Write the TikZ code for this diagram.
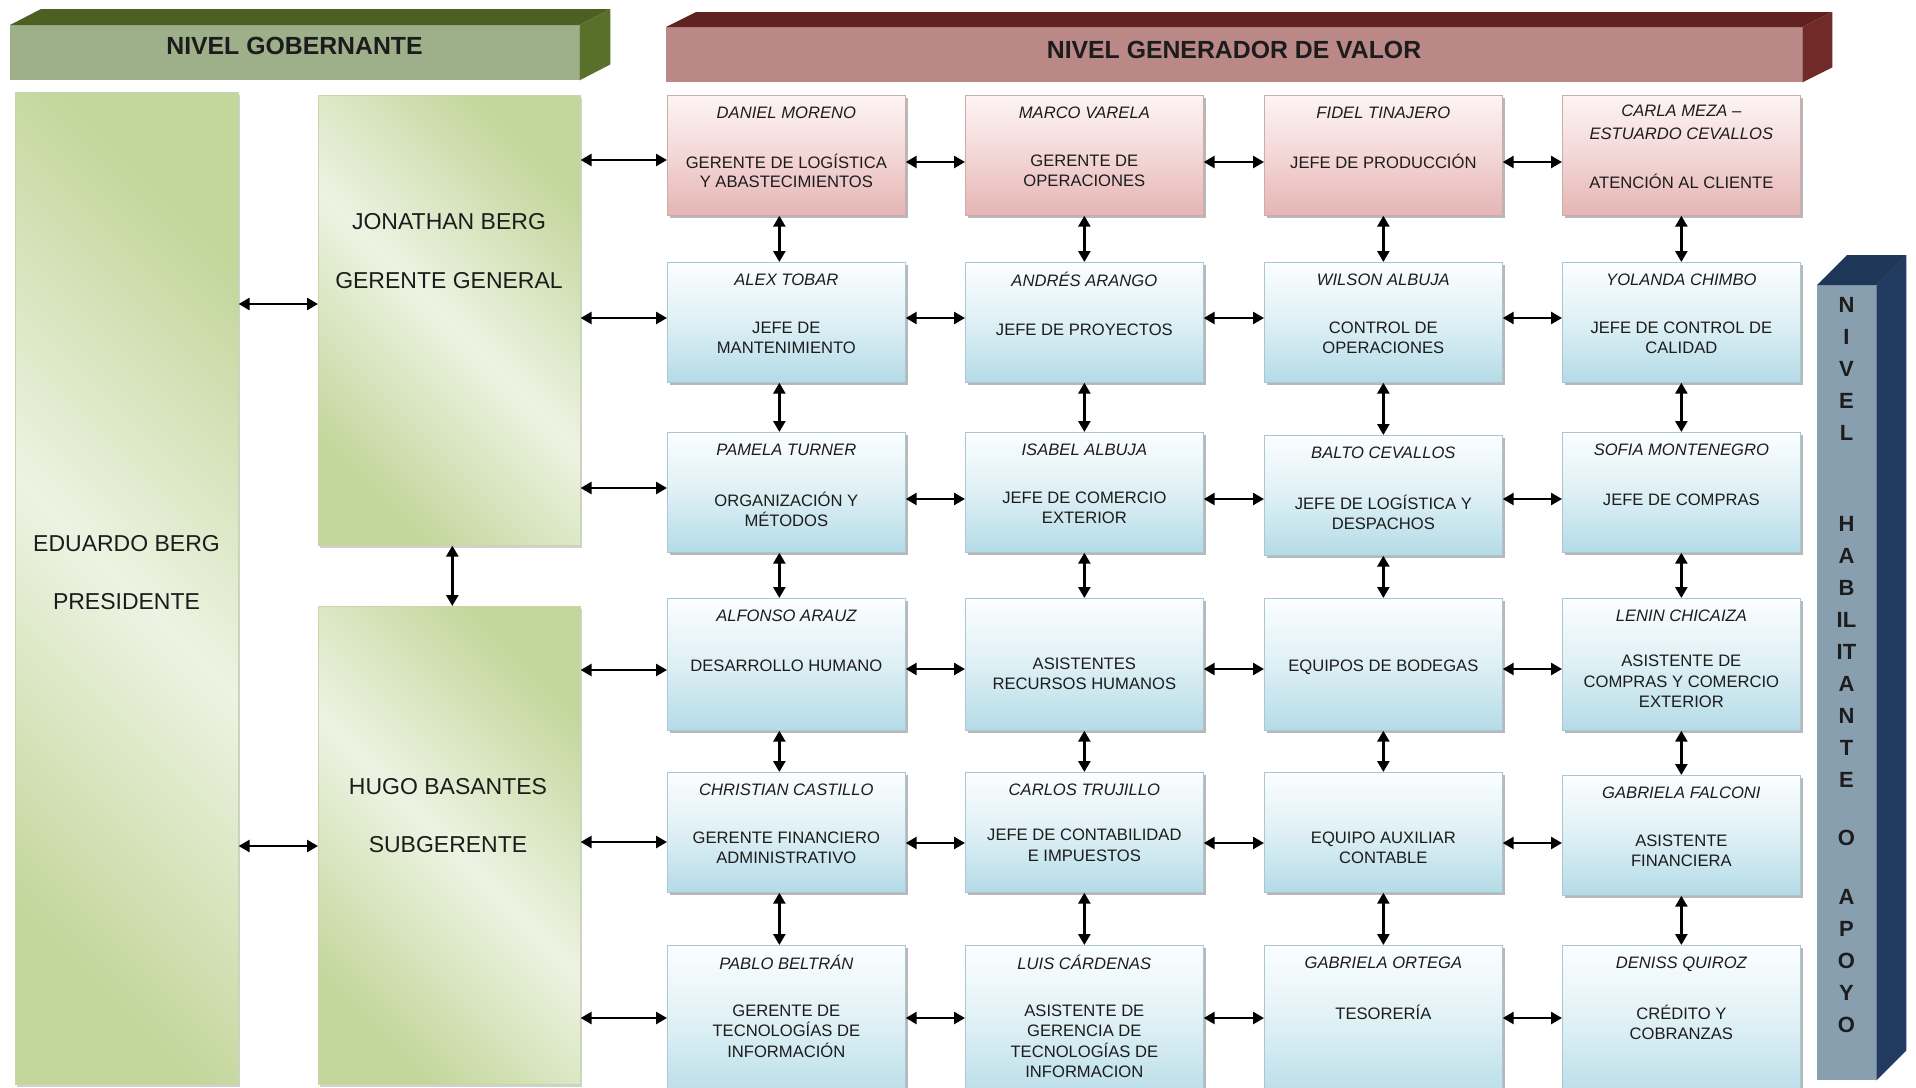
\documentclass[tikz,border=0pt]{standalone}
\usepackage{fontspec}
\setmainfont{Liberation Sans}
\usetikzlibrary{arrows.meta,shadows,calc}

% palette
\definecolor{gdark}{RGB}{195,214,155}
\definecolor{glight}{RGB}{237,243,226}
\definecolor{gedge}{RGB}{200,214,172}
\definecolor{rtop}{RGB}{253,244,244}
\definecolor{rmid}{RGB}{243,215,214}
\definecolor{rbot}{RGB}{229,181,180}
\definecolor{redge}{RGB}{205,172,172}
\definecolor{btop}{RGB}{252,254,255}
\definecolor{bmid}{RGB}{222,240,245}
\definecolor{bbot}{RGB}{180,219,231}
\definecolor{bedge}{RGB}{170,198,210}
\definecolor{govfront}{RGB}{158,176,138}
\definecolor{govtop}{RGB}{76,96,36}
\definecolor{govside}{RGB}{88,112,42}
\definecolor{valfront}{RGB}{186,136,135}
\definecolor{valtop}{RGB}{96,34,32}
\definecolor{valside}{RGB}{112,42,40}
\definecolor{supfront}{RGB}{136,159,176}
\definecolor{suptop}{RGB}{30,55,88}
\definecolor{supside}{RGB}{33,60,96}
\definecolor{ink}{RGB}{28,28,28}

% one position box: id, style, left, top, height, role offset, holder, role
\newcommand\orgbox[8]{%
  \node[#2, minimum height=#5pt, anchor=north west] (#1) at (#3,#4) {};
  \if\relax\detokenize{#7}\relax\else
    \node[nametext] (#1-name) at ([yshift=-9.4pt]#1.north) {#7};
  \fi
  \node[roletext] (#1-role) at ([yshift=-#6pt]#1.north) {#8};
}

\begin{document}
\begin{tikzpicture}[x=1pt, y=-1pt,
  biarrow/.style={line width=2.6pt, draw=black,
    {Triangle[length=11pt,width=12pt]}-{Triangle[length=11pt,width=12pt]}},
  cell/.style={rectangle, inner sep=0pt, minimum width=238pt, line width=0.7pt,
    drop shadow={shadow xshift=2.5pt, shadow yshift=-3pt, fill=black, opacity=0.28}},
  redcell/.style={cell, draw=redge, top color=rtop, bottom color=rbot, middle color=rmid},
  bluecell/.style={cell, draw=bedge, top color=btop, bottom color=bbot, middle color=bmid},
  greencell/.style={rectangle, inner sep=0pt, anchor=north west, draw=gedge, line width=0.6pt,
    left color=gdark, right color=gdark, middle color=glight, shading angle=-45,
    drop shadow={shadow xshift=2pt, shadow yshift=-2.5pt, fill=black, opacity=0.18}},
  facebox/.style={rectangle, inner sep=0pt, anchor=north west},
  nametext/.style={font=\fontsize{16.6pt}{20.5pt}\selectfont\itshape, text=ink,
    inner sep=0pt, anchor=north, align=center, execute at begin node=\strut},
  roletext/.style={font=\fontsize{16.6pt}{20.5pt}\selectfont, text=ink,
    inner sep=0pt, anchor=north, align=center, execute at begin node=\strut},
  bigtext/.style={font=\fontsize{23pt}{27pt}\selectfont, text=ink, inner sep=0pt, anchor=base},
  hdrtext/.style={font=\fontsize{24.8pt}{28pt}\selectfont\bfseries, text=ink, inner sep=0pt, anchor=base},
  vtext/.style={font=\fontsize{22pt}{32pt}\selectfont\bfseries, text=ink,
    inner sep=0pt, anchor=north, align=center, execute at begin node=\strut}]

\useasboundingbox (0,0) rectangle (1916,1087);
\clip (0,0) rectangle (1916,1087);
\fill[white] (0,0) rectangle (1916,1087);

% ---------- level banners ----------
\node[facebox, fill=govfront, minimum width=569pt, minimum height=55pt] (gov) at (10,25) {};
\fill[govtop] (gov.north west) -- ++(31pt,16pt) -- ([shift={(31pt,16pt)}]gov.north east) -- (gov.north east) -- cycle;
\fill[govside] (gov.north east) -- ++(31pt,16pt) -- ([shift={(31pt,16pt)}]gov.south east) -- (gov.south east) -- cycle;
\node[hdrtext] (gov-label) at (294.5,54.5) {NIVEL GOBERNANTE};

\node[facebox, fill=valfront, minimum width=1136pt, minimum height=55pt] (val) at (666,27) {};
\fill[valtop] (val.north west) -- ++(30pt,15pt) -- ([shift={(30pt,15pt)}]val.north east) -- (val.north east) -- cycle;
\fill[valside] (val.north east) -- ++(30pt,15pt) -- ([shift={(30pt,15pt)}]val.south east) -- (val.south east) -- cycle;
\node[hdrtext] (val-label) at (1234,58.5) {NIVEL GENERADOR DE VALOR};

\node[facebox, fill=supfront, minimum width=59pt, minimum height=795pt] (sup) at (1817,285) {};
\fill[suptop] (sup.north west) -- ++(30pt,30pt) -- ([shift={(30pt,30pt)}]sup.north east) -- (sup.north east) -- cycle;
\fill[supside] (sup.north east) -- ++(30pt,30pt) -- ([shift={(30pt,30pt)}]sup.south east) -- (sup.south east) -- cycle;
\node[vtext] (sup-label) at (1846.5,297.5)
  {N\\I\\V\\E\\L\\[58.5pt]H\\A\\B\\IL\\IT\\A\\N\\T\\E\\[26pt]O\\[26.7pt]A\\P\\O\\Y\\O};

% ---------- governing level ----------
\node[greencell, minimum width=223pt, minimum height=992pt] (edu) at (15,92) {};
\node[greencell, minimum width=262pt, minimum height=450pt] (jona) at (318,95) {};
\node[greencell, minimum width=262pt, minimum height=478pt] (hugo) at (318,606) {};
\node[bigtext] (edu-name) at (126.5,551) {EDUARDO BERG};
\node[bigtext] (edu-role) at (126.5,609) {PRESIDENTE};
\node[bigtext] (jona-name) at (449,229) {JONATHAN BERG};
\node[bigtext] (jona-role) at (449,288) {GERENTE GENERAL};
\node[bigtext] (hugo-name) at (448,794) {HUGO BASANTES};
\node[bigtext] (hugo-role) at (448,852) {SUBGERENTE};

% ---------- value-generating level ----------
\orgbox{r1c1}{redcell}{667}{95}{120}{59.4}{DANIEL MORENO}{GERENTE DE LOGÍSTICA\\[-2.2pt]Y ABASTECIMIENTOS}
\orgbox{r1c2}{redcell}{965}{95}{120}{59.4}{MARCO VARELA}{GERENTE DE\\OPERACIONES}
\orgbox{r1c3}{redcell}{1264}{95}{120}{59.4}{FIDEL TINAJERO}{JEFE DE PRODUCCIÓN}
\orgbox{r1c4}{redcell}{1562}{95}{120}{78.5}{CARLA MEZA –\\[2.5pt]ESTUARDO CEVALLOS}{ATENCIÓN AL CLIENTE}

\orgbox{r2c1}{bluecell}{667}{262}{120}{59.4}{ALEX TOBAR}{JEFE DE\\MANTENIMIENTO}
\orgbox{r2c2}{bluecell}{965}{262}{120}{59.4}{ANDRÉS ARANGO}{JEFE DE PROYECTOS}
\orgbox{r2c3}{bluecell}{1264}{262}{120}{59.4}{WILSON ALBUJA}{CONTROL DE\\OPERACIONES}
\orgbox{r2c4}{bluecell}{1562}{262}{120}{59.4}{YOLANDA CHIMBO}{JEFE DE CONTROL DE\\CALIDAD}

\orgbox{r3c1}{bluecell}{667}{432}{120}{59.4}{PAMELA TURNER}{ORGANIZACIÓN Y\\MÉTODOS}
\orgbox{r3c2}{bluecell}{965}{432}{120}{59.4}{ISABEL ALBUJA}{JEFE DE COMERCIO\\EXTERIOR}
\orgbox{r3c3}{bluecell}{1264}{435}{120}{59.4}{BALTO CEVALLOS}{JEFE DE LOGÍSTICA Y\\DESPACHOS}
\orgbox{r3c4}{bluecell}{1562}{432}{120}{59.4}{SOFIA MONTENEGRO}{JEFE DE COMPRAS}

\orgbox{r4c1}{bluecell}{667}{598}{132}{59.4}{ALFONSO ARAUZ}{DESARROLLO HUMANO}
\orgbox{r4c2}{bluecell}{965}{598}{132}{59.4}{}{ASISTENTES\\RECURSOS HUMANOS}
\orgbox{r4c3}{bluecell}{1264}{598}{132}{59.4}{}{EQUIPOS DE BODEGAS}
\orgbox{r4c4}{bluecell}{1562}{598}{132}{57}{LENIN CHICAIZA}{ASISTENTE DE\\COMPRAS Y COMERCIO\\EXTERIOR}

\orgbox{r5c1}{bluecell}{667}{772}{120}{59.4}{CHRISTIAN CASTILLO}{GERENTE FINANCIERO\\ADMINISTRATIVO}
\orgbox{r5c2}{bluecell}{965}{772}{120}{57}{CARLOS TRUJILLO}{JEFE DE CONTABILIDAD\\E IMPUESTOS}
\orgbox{r5c3}{bluecell}{1264}{772}{120}{59.4}{}{EQUIPO AUXILIAR\\CONTABLE}
\orgbox{r5c4}{bluecell}{1562}{775}{120}{59.4}{GABRIELA FALCONI}{ASISTENTE\\FINANCIERA}

\orgbox{r6c1}{bluecell}{667}{945}{160}{59.4}{PABLO BELTRÁN}{GERENTE DE\\TECNOLOGÍAS DE\\INFORMACIÓN}
\orgbox{r6c2}{bluecell}{965}{945}{160}{59.4}{LUIS CÁRDENAS}{ASISTENTE DE\\GERENCIA DE\\TECNOLOGÍAS DE\\INFORMACION}
\orgbox{r6c3}{bluecell}{1264}{945}{160}{59.4}{GABRIELA ORTEGA}{TESORERÍA}
\orgbox{r6c4}{bluecell}{1562}{945}{160}{59.4}{DENISS QUIROZ}{CRÉDITO Y\\COBRANZAS}

% ---------- connector levels ----------
\coordinate (h1) at (0,162);
\coordinate (h2) at (0,318);
\coordinate (h3) at (0,499);
\coordinate (h4) at (0,669);
\coordinate (h5) at (0,843);
\coordinate (h6) at (0,1018);
\coordinate (g1) at (0,160);
\coordinate (g2) at (0,318);
\coordinate (g3) at (0,488);
\coordinate (g4) at (0,670);
\coordinate (g5) at (0,842);
\coordinate (g6) at (0,1018);
\coordinate (e1) at (0,304);
\coordinate (e2) at (0,846);

% governing level links
\draw[biarrow] (edu.east |- e1) -- (jona.west |- e1);
\draw[biarrow] (edu.east |- e2) -- (hugo.west |- e2);
\draw[biarrow] ([xshift=3pt]jona.south) -- ([xshift=3pt]hugo.north);
\foreach \r in {1,2,3}
  \draw[biarrow] (jona.east |- g\r) -- (r\r c1.west |- g\r);
\foreach \r in {4,5,6}
  \draw[biarrow] (hugo.east |- g\r) -- (r\r c1.west |- g\r);

% links along each row
\foreach \r in {1,...,6} {
  \draw[biarrow] (r\r c1.east |- h\r) -- (r\r c2.west |- h\r);
  \draw[biarrow] (r\r c2.east |- h\r) -- (r\r c3.west |- h\r);
  \draw[biarrow] (r\r c3.east |- h\r) -- (r\r c4.west |- h\r);
}

% links down each column
\foreach \r/\n in {1/2,2/3,3/4,4/5,5/6} {
  \draw[biarrow] ([xshift=-7pt]r\r c1.south) -- ([xshift=-7pt]r\n c1.north);
  \draw[biarrow] (r\r c2.south) -- (r\n c2.north);
  \draw[biarrow] (r\r c3.south) -- (r\n c3.north);
  \draw[biarrow] (r\r c4.south) -- (r\n c4.north);
}

\end{tikzpicture}
\end{document}
